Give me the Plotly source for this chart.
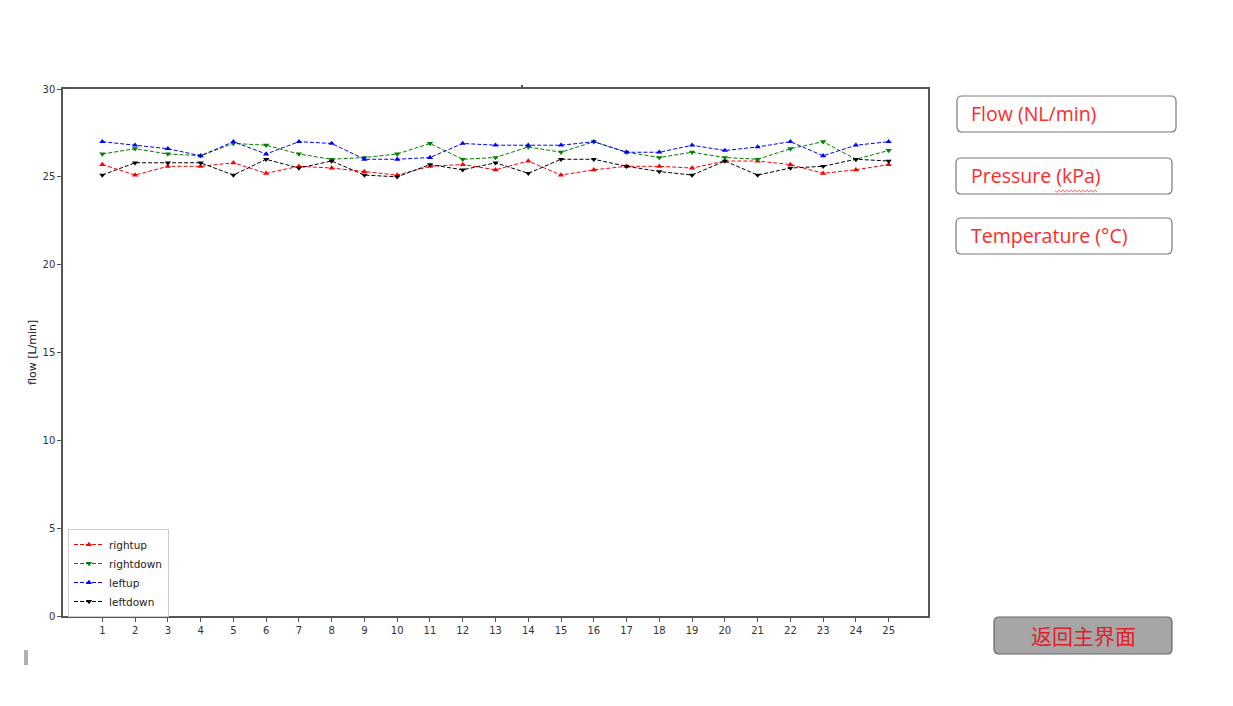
import plotly.graph_objects as go

W, H = 1233, 706

hours = list(range(1, 26))
rightup = [25.7, 25.1, 25.6, 25.6, 25.8, 25.2, 25.6, 25.5, 25.3, 25.1, 25.6, 25.7, 25.4, 25.9, 25.1,
           25.4, 25.6, 25.6, 25.5, 25.9, 25.9, 25.7, 25.2, 25.4, 25.7]
rightdown = [26.3, 26.6, 26.3, 26.2, 26.9, 26.8, 26.3, 26.0, 26.1, 26.3, 26.9, 26.0, 26.1, 26.7, 26.4,
             27.0, 26.4, 26.1, 26.4, 26.1, 26.0, 26.6, 27.0, 26.0, 26.5]
leftup = [27.0, 26.8, 26.6, 26.2, 27.0, 26.3, 27.0, 26.9, 26.0, 26.0, 26.1, 26.9, 26.8, 26.8, 26.8,
          27.0, 26.4, 26.4, 26.8, 26.5, 26.7, 27.0, 26.2, 26.8, 27.0]
leftdown = [25.1, 25.8, 25.8, 25.8, 25.1, 26.0, 25.5, 25.9, 25.1, 25.0, 25.7, 25.4, 25.8, 25.2, 26.0,
            26.0, 25.6, 25.3, 25.1, 25.9, 25.1, 25.5, 25.6, 26.0, 25.9]

series = [
    ("rightup", rightup, "#ff0000", "triangle-up"),
    ("rightdown", rightdown, "#008000", "triangle-down"),
    ("leftup", leftup, "#0000ff", "triangle-up"),
    ("leftdown", leftdown, "#000000", "triangle-down"),
]
y_ticks = [0, 5, 10, 15, 20, 25, 30]
button_labels = ["Flow (NL/min)", "Pressure (kPa)", "Temperature (°C)"]
back_label = "返回主界面"


def px(x):
    return x / W


def py(y):
    return 1 - y / H


def rr(x0, y0, x1, y1, r):
    pts = []
    pts.append(f"M {px(x0 + r)},{py(y0)}")
    pts.append(f"L {px(x1 - r)},{py(y0)}")
    pts.append(f"Q {px(x1)},{py(y0)} {px(x1)},{py(y0 + r)}")
    pts.append(f"L {px(x1)},{py(y1 - r)}")
    pts.append(f"Q {px(x1)},{py(y1)} {px(x1 - r)},{py(y1)}")
    pts.append(f"L {px(x0 + r)},{py(y1)}")
    pts.append(f"Q {px(x0)},{py(y1)} {px(x0)},{py(y1 - r)}")
    pts.append(f"L {px(x0)},{py(y0 + r)}")
    pts.append(f"Q {px(x0)},{py(y0)} {px(x0 + r)},{py(y0)}")
    return " ".join(pts) + " Z"


fig = go.Figure()
for name, vals, col, sym in series:
    fig.add_trace(go.Scatter(
        x=hours, y=vals, name=name, mode="lines+markers",
        line=dict(color=col, width=1, dash="4px,2px"),
        marker=dict(symbol=sym, size=5.5, color=col),
    ))

axis_common = dict(
    showline=True, mirror=True, linecolor="#555555", linewidth=1.5,
    ticks="outside", ticklen=4, tickcolor="#555555", showgrid=False, zeroline=False,
    automargin=False,
    tickfont=dict(family="DejaVu Sans", size=10, color="#333333"),
)

fig.update_layout(
    width=W, height=H,
    margin=dict(l=0, r=0, t=0, b=0, autoexpand=False),
    paper_bgcolor="white", plot_bgcolor="white",
    xaxis=dict(domain=[px(63), px(928)], range=[-0.2, 26.2], tickmode="array",
               tickvals=hours, ticktext=[str(h) for h in hours], **axis_common),
    yaxis=dict(domain=[py(616), py(89)], range=[0, 30], tickmode="array",
               tickvals=y_ticks, ticktext=[str(v) for v in y_ticks], **axis_common),
    legend=dict(x=px(68), y=py(529), xanchor="left", yanchor="top",
                bgcolor="white", bordercolor="#cccccc", borderwidth=1,
                font=dict(family="DejaVu Sans", size=10.5, color="#222222"),
                tracegroupgap=0, itemwidth=30),
    showlegend=True,
)

fig.add_annotation(text="flow [L/min]", x=px(32), y=py(353), xref="paper", yref="paper",
                   textangle=-90, showarrow=False, xanchor="center", yanchor="middle",
                   font=dict(family="DejaVu Sans", size=11, color="#222222"))

shapes = []
boxes = [(957, 96, 1176, 132), (956, 158, 1172, 194), (956, 218, 1172, 254)]
for (x0, y0, x1, y1), lab in zip(boxes, button_labels):
    shapes.append(dict(type="path", path=rr(x0, y0, x1, y1, 5), xref="paper", yref="paper",
                       line=dict(color="#7a7a7a", width=1.2), fillcolor="white"))
    fig.add_annotation(text=lab, x=px(969), y=py((y0 + y1) / 2 - 1), xref="paper", yref="paper",
                       xanchor="left", yanchor="middle", showarrow=False,
                       font=dict(family="Open Sans", size=19.5, color="#ff2a2a"))

# wavy underline under "kPa"
wx0, wx1, wy = 1055, 1097, 191
wave = [f"M {px(wx0)},{py(wy)}"]
k = 0
x = wx0
while x < wx1:
    x += 2
    k += 1
    wave.append(f"L {px(x)},{py(wy + (1.2 if k % 2 else -1.2))}")
shapes.append(dict(type="path", path=" ".join(wave), xref="paper", yref="paper",
                   line=dict(color="#ff5050", width=0.8)))

# back button
shapes.append(dict(type="path", path=rr(994, 617, 1172, 654, 5), xref="paper", yref="paper",
                   line=dict(color="#666666", width=1.2), fillcolor="#a6a6a6"))
fig.add_annotation(text=back_label, x=px(1083), y=py(635), xref="paper", yref="paper",
                   xanchor="center", yanchor="middle", showarrow=False,
                   font=dict(family="Noto Sans CJK SC", size=21, color="#e0202a"))

# small grey bar at left bottom
shapes.append(dict(type="rect", x0=px(24), x1=px(28), y0=py(665), y1=py(650), xref="paper",
                   yref="paper", line=dict(width=0), fillcolor="#b0b0b0"))
# tiny dot above plot (clipped title remnant)
shapes.append(dict(type="rect", x0=px(521), x1=px(523), y0=py(87), y1=py(85), xref="paper",
                   yref="paper", line=dict(width=0), fillcolor="#555555"))

fig.update_layout(shapes=shapes)
fig.write_html("out.html", config={"displayModeBar": False},
               post_script="document.body.style.margin='0';document.body.style.overflow='hidden';")
